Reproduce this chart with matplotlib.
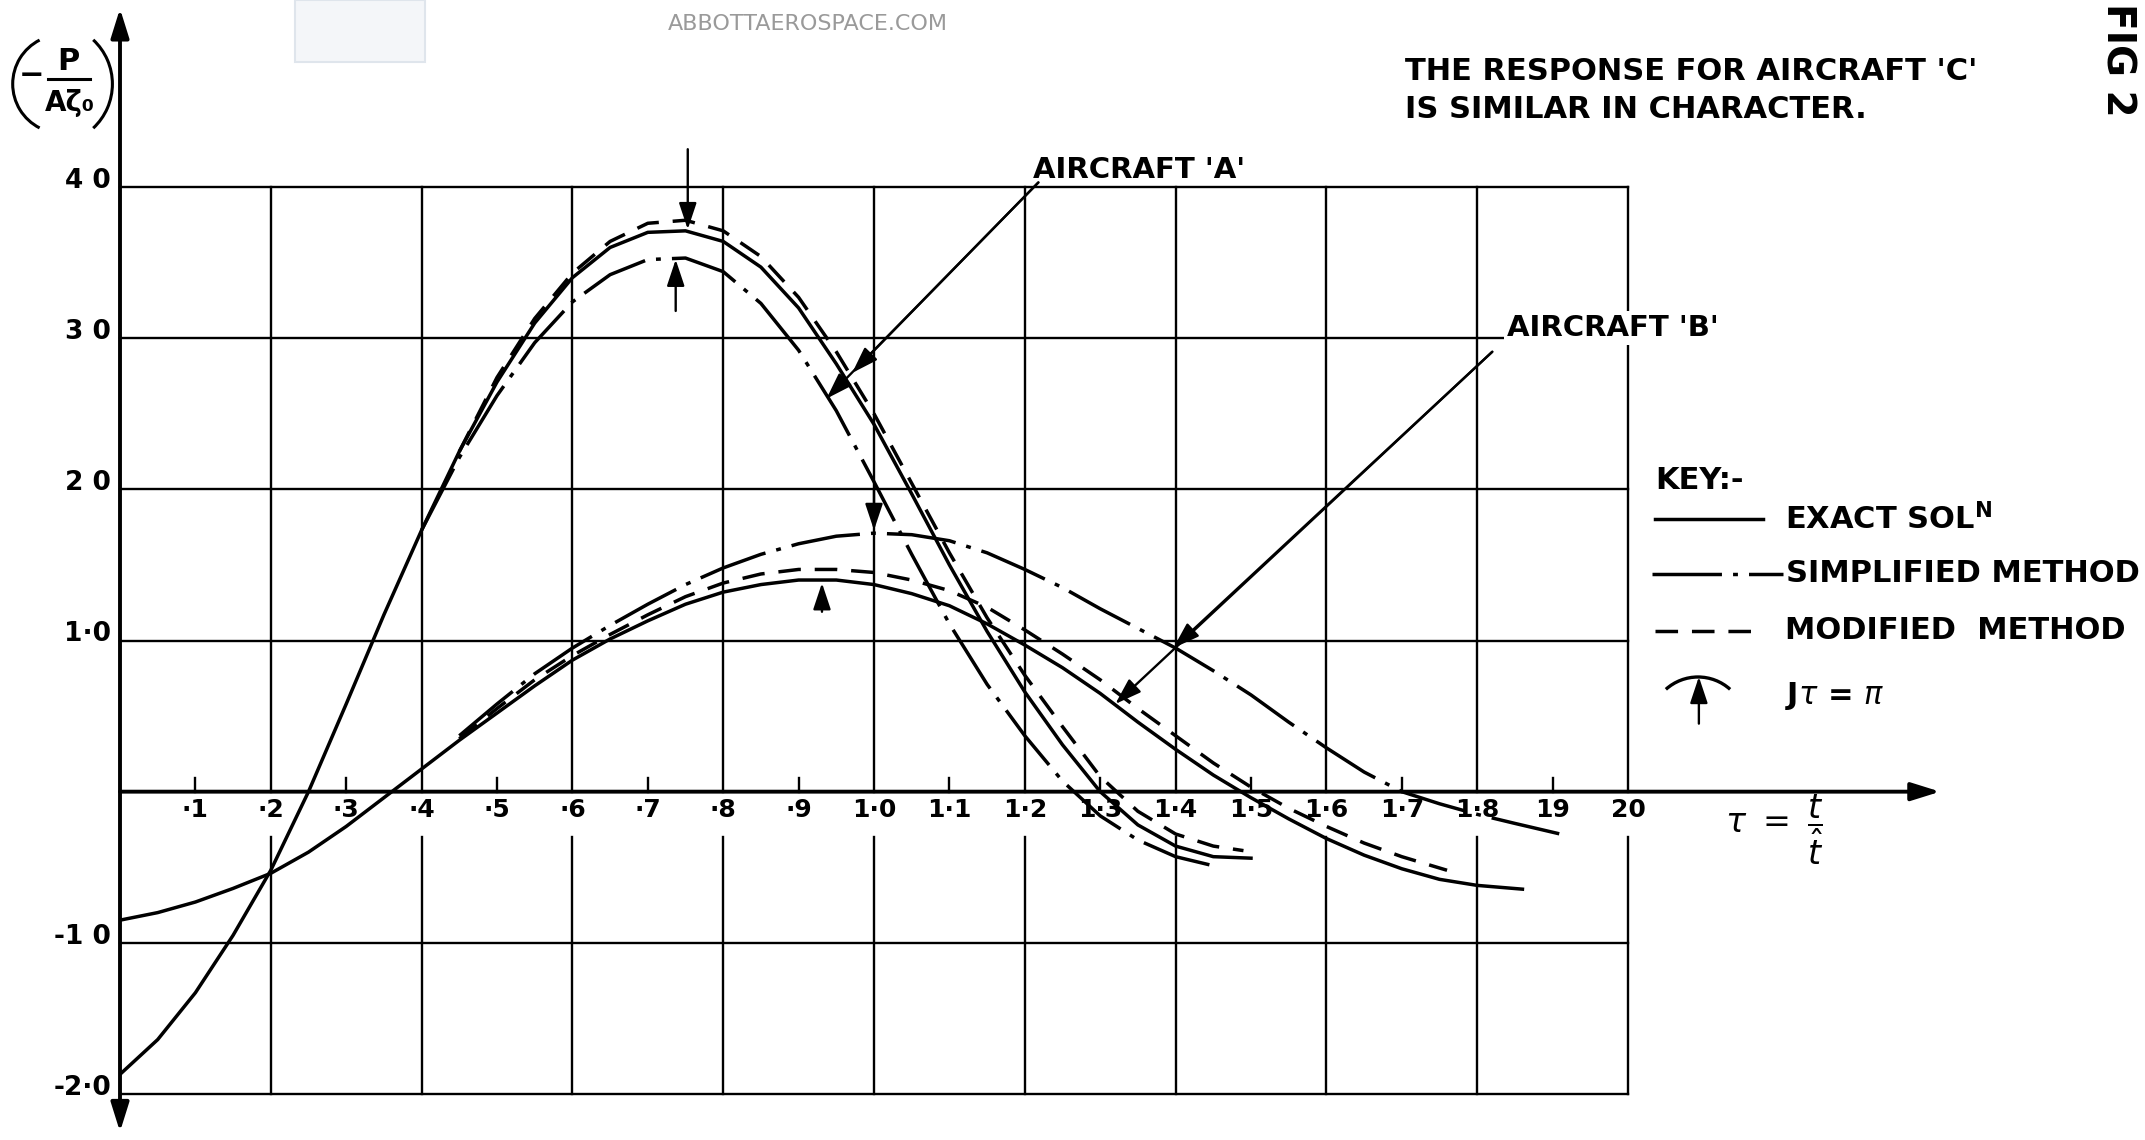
import numpy as np
import matplotlib.pyplot as plt
from matplotlib.lines import Line2D
from matplotlib.patches import Arc, Rectangle
from matplotlib.transforms import IdentityTransform

# ---- values (tau = t / t_hat) ----
# aircraft 'A'
tau_a = [0.00, 0.05, 0.10, 0.15, 0.20, 0.25, 0.30, 0.35, 0.40, 0.45, 0.50,
         0.55, 0.60, 0.65, 0.70, 0.75, 0.80, 0.85, 0.90, 0.95, 1.00, 1.05,
         1.10, 1.15, 1.20, 1.25, 1.30, 1.35, 1.40, 1.45, 1.50]
a_exact = [-1.87, -1.64, -1.33, -0.95, -0.52, 0.00, 0.58, 1.17, 1.73, 2.25, 2.71,
           3.10, 3.40, 3.60, 3.70, 3.71, 3.64, 3.47, 3.20, 2.83, 2.43, 1.97,
           1.50, 1.06, 0.66, 0.31, 0.00, -0.22, -0.36, -0.43, -0.44]

tau_a_mod = [0.45, 0.50, 0.55, 0.60, 0.65, 0.70, 0.75, 0.80, 0.85, 0.90, 0.95,
             1.00, 1.05, 1.10, 1.15, 1.20, 1.25, 1.30, 1.35, 1.40, 1.45, 1.49]
a_mod = [2.25, 2.74, 3.13, 3.43, 3.64, 3.76, 3.78, 3.71, 3.54, 3.27, 2.91,
         2.50, 2.04, 1.58, 1.15, 0.77, 0.43, 0.10, -0.13, -0.28, -0.36, -0.39]

tau_a_simp = [0.40, 0.45, 0.50, 0.55, 0.60, 0.65, 0.70, 0.75, 0.80, 0.85, 0.90,
              0.95, 1.00, 1.05, 1.10, 1.15, 1.20, 1.25, 1.30, 1.35, 1.40, 1.45]
a_simp = [1.73, 2.21, 2.62, 2.97, 3.24, 3.42, 3.52, 3.53, 3.44, 3.23, 2.92,
          2.52, 2.05, 1.57, 1.11, 0.71, 0.37, 0.07, -0.16, -0.32, -0.43, -0.49]

# aircraft 'B'
tau_b = [0.00, 0.05, 0.10, 0.15, 0.20, 0.25, 0.30, 0.35, 0.40, 0.45, 0.50,
         0.55, 0.60, 0.65, 0.70, 0.75, 0.80, 0.85, 0.90, 0.95, 1.00, 1.05,
         1.10, 1.15, 1.20, 1.25, 1.30, 1.35, 1.40, 1.45, 1.50, 1.55, 1.60,
         1.65, 1.70, 1.75, 1.80, 1.86]
b_exact = [-0.85, -0.80, -0.73, -0.64, -0.54, -0.40, -0.23, -0.04, 0.15, 0.34, 0.52,
           0.70, 0.87, 1.01, 1.13, 1.24, 1.32, 1.37, 1.40, 1.40, 1.37, 1.31,
           1.23, 1.11, 0.97, 0.82, 0.65, 0.46, 0.28, 0.11, -0.04, -0.18, -0.31,
           -0.42, -0.51, -0.58, -0.62, -0.645]

tau_b_mod = [0.45, 0.50, 0.55, 0.60, 0.65, 0.70, 0.75, 0.80, 0.85, 0.90, 0.95,
             1.00, 1.05, 1.10, 1.15, 1.20, 1.25, 1.30, 1.35, 1.40, 1.45, 1.50,
             1.55, 1.60, 1.65, 1.70, 1.76]
b_mod = [0.35, 0.55, 0.74, 0.90, 1.04, 1.17, 1.29, 1.38, 1.44, 1.47, 1.47,
         1.45, 1.40, 1.33, 1.22, 1.07, 0.91, 0.74, 0.55, 0.37, 0.19, 0.03,
         -0.11, -0.23, -0.34, -0.43, -0.52]

tau_b_simp = [0.45, 0.50, 0.55, 0.60, 0.65, 0.70, 0.75, 0.80, 0.85, 0.90, 0.95,
              1.00, 1.05, 1.10, 1.15, 1.20, 1.25, 1.30, 1.35, 1.40, 1.45, 1.50,
              1.55, 1.60, 1.65, 1.70, 1.75, 1.80, 1.85, 1.91]
b_simp = [0.37, 0.58, 0.78, 0.95, 1.10, 1.24, 1.37, 1.48, 1.57, 1.64, 1.69,
          1.71, 1.70, 1.66, 1.58, 1.47, 1.35, 1.21, 1.08, 0.95, 0.80, 0.64,
          0.46, 0.29, 0.13, 0.00, -0.08, -0.15, -0.21, -0.28]

# J tau = pi markers: (tau, tail y, tip y)
marker_tau = [0.753, 0.737, 0.931, 1.000]
marker_tail = [4.25, 3.18, 1.19, 2.00]
marker_tip = [3.72, 3.52, 1.38, 1.73]

x_ticks = [0.1 * i for i in range(1, 21)]
x_ticklabels = ['·1', '·2', '·3', '·4', '·5', '·6', '·7', '·8', '·9', '1·0',
                '1·1', '1·2', '1·3', '1·4', '1·5', '1·6', '1·7', '1·8', '19', '20']
y_ticks = [4, 3, 2, 1, -1, -2]
y_ticklabels = ['4 0', '3 0', '2 0', '1·0', '-1 0', '-2·0']

SOLID = '-'
DASHDOT = (0, (20, 3.2, 1.4, 3.2))
DASHED = (0, (6.5, 4))
lw_curve = 2.5
lw_grid = 1.7
fs = 22
fw = 'bold'
W, H = 2145, 1140

fig = plt.figure(figsize=(21.45, 11.4), dpi=100)
fig.patch.set_facecolor('white')
ax = fig.add_axes([120 / W, 46 / H, 1508 / W, 907 / H])
ax.set_xlim(0, 2.0)
ax.set_ylim(-2.0, 4.0)
ax.axis('off')

# faint watermark
fig.patches.append(Rectangle((295 / W, 1 - 62 / H), 130 / W, 62 / H,
                             transform=fig.transFigure, facecolor='#f4f6f9',
                             edgecolor='#dfe5ec', lw=1.5))
fig.text(808 / W, 1 - 24 / H, 'ABBOTTAEROSPACE.COM', fontsize=16,
         color='#9a9a9a', ha='center', va='center')

# grid
for yg in [-2, -1, 1, 2, 3, 4]:
    ax.plot([0, 2.0], [yg, yg], c='k', lw=lw_grid, zorder=1, clip_on=False)
for i in range(1, 11):
    xg = 0.2 * i
    ax.plot([xg, xg], [0, 4], c='k', lw=lw_grid, zorder=1, clip_on=False)
    ax.plot([xg, xg], [-2, -0.3], c='k', lw=lw_grid, zorder=1, clip_on=False)
for i in range(10):
    xt = 0.1 + 0.2 * i
    ax.plot([xt, xt], [0, 0.09], c='k', lw=lw_grid, zorder=1)

# axes with arrows
ax.annotate('', xy=(2.414, 0), xytext=(0, 0),
            arrowprops=dict(arrowstyle='-|>,head_length=0.8,head_width=0.25',
                            color='k', lw=2.8, shrinkA=0, shrinkB=0, mutation_scale=22),
            annotation_clip=False)
ax.annotate('', xy=(0, 5.18), xytext=(0, -2.25),
            arrowprops=dict(arrowstyle='<|-|>,head_length=0.8,head_width=0.25',
                            color='k', lw=2.8, shrinkA=0, shrinkB=0, mutation_scale=22),
            annotation_clip=False)

# tick labels
for xt, lab in zip(x_ticks, x_ticklabels):
    ax.text(xt, -0.12, lab, fontsize=18, fontweight=fw, ha='center', va='center')
for yt, lab in zip(y_ticks, y_ticklabels):
    ax.text(-0.012, yt + 0.04, lab, fontsize=19, fontweight=fw, ha='right', va='center')

# curves
ax.plot(tau_a, a_exact, c='k', lw=lw_curve, ls=SOLID, zorder=3)
ax.plot(tau_a_mod, a_mod, c='k', lw=lw_curve, ls=DASHED, zorder=3)
ax.plot(tau_a_simp, a_simp, c='k', lw=lw_curve, ls=DASHDOT, zorder=3)
ax.plot(tau_b, b_exact, c='k', lw=lw_curve, ls=SOLID, zorder=3)
ax.plot(tau_b_mod, b_mod, c='k', lw=lw_curve, ls=DASHED, zorder=3)
ax.plot(tau_b_simp, b_simp, c='k', lw=lw_curve, ls=DASHDOT, zorder=3)


def arrow(tail, tip, lw=1.7):
    ax.annotate('', xy=tip, xytext=tail,
                arrowprops=dict(arrowstyle='-|>,head_length=0.9,head_width=0.3',
                                color='k', lw=lw, shrinkA=0, shrinkB=0, mutation_scale=18),
                annotation_clip=False, zorder=4)


for t, y0, y1 in zip(marker_tau, marker_tail, marker_tip):
    arrow((t, y0), (t, y1))

# aircraft leaders
arrow((1.218, 4.03), (0.937, 2.60))
arrow((1.218, 4.03), (0.971, 2.77))
arrow((1.820, 2.91), (1.320, 0.58))
arrow((1.820, 2.91), (1.397, 0.95))
ax.text(1.211, 4.11, "AIRCRAFT 'A'", fontsize=21, fontweight=fw, ha='left',
        va='center', zorder=5)
ax.text(1.840, 3.07, "AIRCRAFT 'B'", fontsize=21, fontweight=fw, ha='left',
        va='center', zorder=5, bbox=dict(facecolor='white', edgecolor='none', pad=2))

# key
ax.text(2.036, 2.06, 'KEY:-', fontsize=fs, fontweight=fw, ha='left', va='center')
ax.plot([2.036, 2.179], [1.805, 1.805], c='k', lw=lw_curve, ls=SOLID, clip_on=False)
ax.text(2.208, 1.805, r'EXACT SOL$^{\mathbf{N}}$', fontsize=fs, fontweight=fw,
        ha='left', va='center')
ax.plot([2.032, 2.206], [1.44, 1.44], c='k', lw=lw_curve, ls=DASHDOT, clip_on=False)
ax.text(2.209, 1.44, 'SIMPLIFIED METHOD', fontsize=fs, fontweight=fw,
        ha='left', va='center')
ax.plot([2.036, 2.175], [1.065, 1.065], c='k', lw=lw_curve, ls=DASHED, clip_on=False)
ax.text(2.208, 1.065, 'MODIFIED  METHOD', fontsize=fs, fontweight=fw,
        ha='left', va='center')
# key symbol for J tau = pi (drawn in output pixels)
fig.add_artist(Arc((1698, H - 725), 96, 96, theta1=48, theta2=132,
                   transform=IdentityTransform(), color='k', lw=2.4))
arrow((2.094, 0.45), (2.094, 0.76))
ax.text(2.208, 0.635, r'J$\tau$ = $\pi$', fontsize=fs, fontweight=fw,
        ha='left', va='center')

# x axis label
ax.text(2.129, -0.25, r'$\tau\ =\ \dfrac{t}{\hat{t}}$', fontsize=24,
        ha='left', va='center')

# y axis label ( - P / A zeta_0 ), built from pieces; brackets drawn as arcs
fig.add_artist(Arc((62, H - 84), 98.6, 98.6, theta1=117, theta2=243,
                   transform=IdentityTransform(), color='k', lw=2.2))
fig.add_artist(Arc((52, H - 84), 120.8, 120.8, theta1=-47, theta2=47,
                   transform=IdentityTransform(), color='k', lw=2.2))
fig.text(32 / W, 1 - 76 / H, '−', fontsize=22, fontweight=fw, ha='center', va='center')
fig.text(68 / W, 1 - 62 / H, 'P', fontsize=22, fontweight=fw, ha='center', va='center')
fig.add_artist(Line2D([48 / W, 90 / W], [1 - 79 / H, 1 - 79 / H],
                      transform=fig.transFigure, color='k', lw=2.2))
fig.text(70 / W, 1 - 103 / H, 'Aζ₀', fontsize=20, fontweight=fw,
         ha='center', va='center')

# notes
fig.text(1405 / W, 1 - 72 / H, "THE RESPONSE FOR AIRCRAFT 'C'", fontsize=fs,
         fontweight=fw, ha='left', va='center')
fig.text(1405 / W, 1 - 109 / H, 'IS SIMILAR IN CHARACTER.', fontsize=fs,
         fontweight=fw, ha='left', va='center')
fig.text(2098 / W, 0.997, 'FIG 2', rotation=-90, fontsize=28, fontweight='bold',
         ha='left', va='top')

fig.savefig('out.png', dpi=100)
